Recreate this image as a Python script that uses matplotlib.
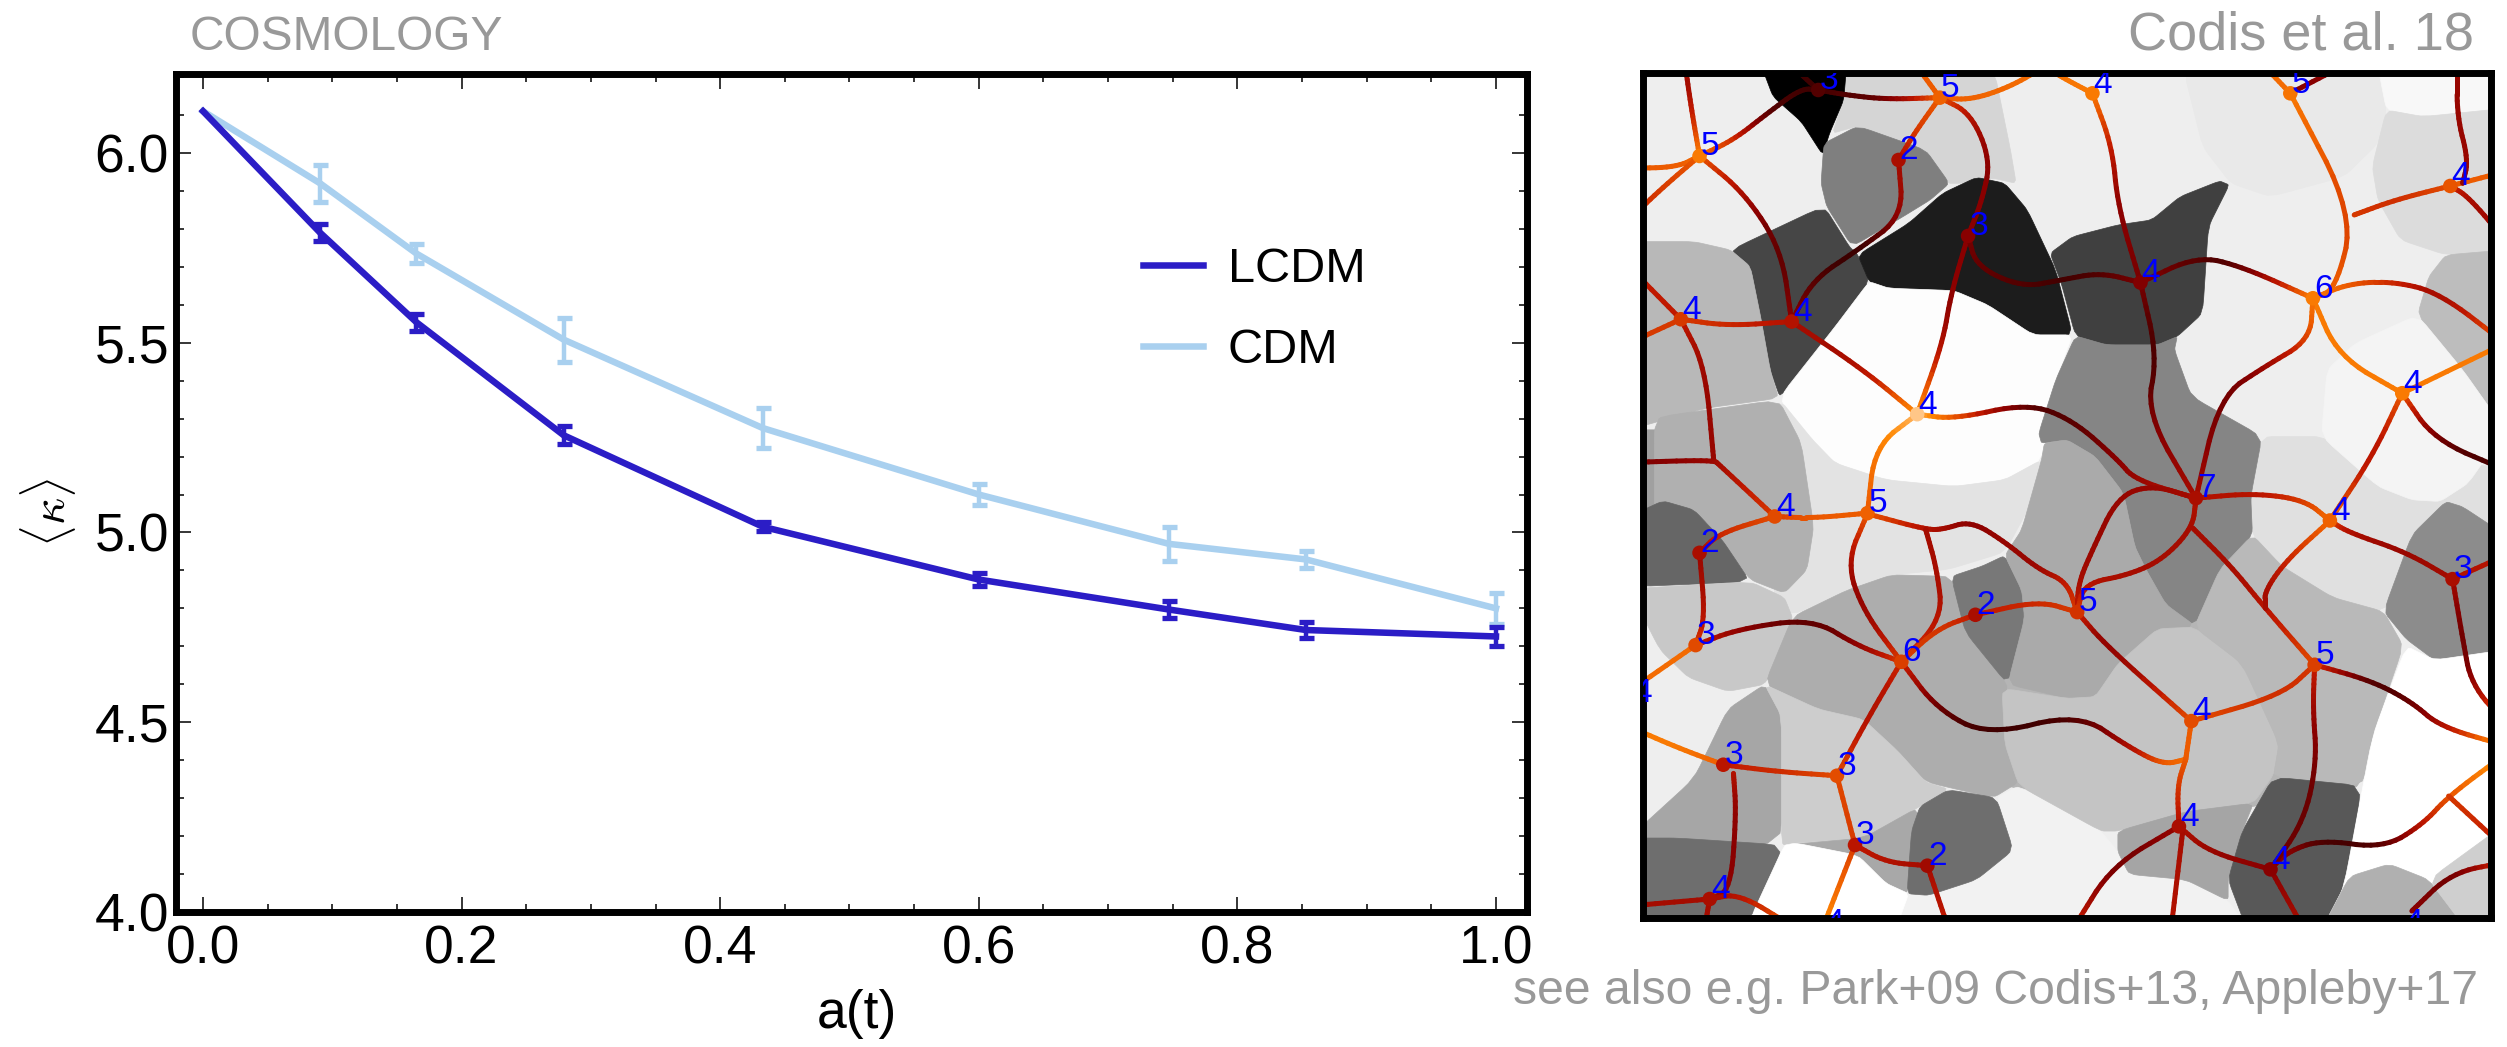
import numpy as np
import matplotlib
matplotlib.use('Agg')
import matplotlib.pyplot as plt
from matplotlib.collections import LineCollection
from matplotlib.colors import LinearSegmentedColormap
from matplotlib.ticker import MultipleLocator

plt.rcParams['font.family'] = ['Liberation Sans', 'DejaVu Sans']
plt.rcParams['mathtext.fontset'] = 'cm'

W, H = 2507, 1047

#----------left panel data-----------
a_t = [0.0, 0.0905, 0.165, 0.279, 0.433, 0.600, 0.747, 0.853, 1.0]
kappa_lcdm = [6.11, 5.79, 5.554, 5.256, 5.015, 4.876, 4.797, 4.743, 4.726]
err_lcdm = [0.0, 0.022, 0.022, 0.024, 0.012, 0.017, 0.022, 0.022, 0.024]
kappa_cdm = [6.11, 5.92, 5.735, 5.508, 5.275, 5.10, 4.97, 4.929, 4.80]
err_cdm = [0.0, 0.048, 0.024, 0.058, 0.052, 0.028, 0.044, 0.022, 0.04]

#----------right panel data: cells, skeleton and nodes of the map-----------
cell_gray = ['#e9e9e9', '#f8f8f8', '#dcdcdc', '#bdbdbd', '#e0e0e0', '#f4f4f4',
             '#b5b5b5',
             '#d5d5d5', '#000000', '#7f7f7f', '#464646', '#1c1c1c', '#404040',
             '#b8b8b8', '#a0a0a0', '#fdfdfd', '#e3e3e3', '#b0b0b0', '#666666',
             '#c8c8c8', '#adadad', '#787878', '#858585', '#aaaaaa', '#a6a6a6',
             '#6e6e6e', '#cdcdcd', '#a8a8a8', '#f2f2f2', '#ffffff', '#6e6e6e',
             '#c4c4c4', '#b9b9b9', '#8c8c8c', '#a5a5a5', '#585858', '#ffffff',
             '#b0b0b0', '#cfcfcf']
cell_outline = [
    [(995,78),(1340,78),(1355,180),(1340,280),(1280,380),(1150,440),(1080,400),(1030,290)],
    [(1340,78),(1533,78),(1533,175),(1420,200),(1355,180)],
    [(1355,180),(1420,200),(1533,175),(1533,600),(1460,615),(1380,570),(1340,450),(1330,350)],
    [(1460,615),(1533,600),(1533,1140),(1490,960),(1410,795),(1430,680)],
    [(1135,1160),(1115,1340),(1118,1455),(1170,1549),(1260,1643),(1350,1685),(1400,1540),(1533,1400),(1533,1250),(1300,1230),(1240,1160)],
    [(1410,795),(1490,960),(1533,1140),(1500,1300),(1450,1355),(1400,1350),(1340,1310),(1240,1160),(1250,960),(1300,880)],
    [(300,1720),(590,1600),(1060,1600),(1350,1700),(1320,2210),(1120,2270),(880,2340),(700,2210),(560,2200),(430,2020),(290,1950)],
    [(400,78),(660,78),(690,300),(700,400),(660,385),(600,400),(580,400),(540,300),(420,228),(375,250),(395,150)],
    [(250,78),(400,78),(395,150),(370,250),(358,315),(320,215),(270,140)],
    [(420,228),(360,280),(355,400),(365,470),(410,590),(500,500),(548,450),(582,400),(540,300)],
    [(195,600),(360,468),(405,590),(420,615),(440,695),(380,830),(283,1045),(265,960),(248,800),(230,650)],
    [(630,382),(570,430),(510,520),(420,615),(440,695),(475,715),(590,722),(650,765),(730,855),(800,855),(770,660),(720,480),(680,400)],
    [(1060,393),(1077,405),(1040,530),(1030,790),(985,860),(950,885),(860,885),(805,858),(780,700),(760,610),(800,560),(880,525),(940,510),(990,440)],
    [(45,575),(130,575),(195,600),(230,650),(248,800),(265,960),(280,1045),(150,1075),(45,1140)],
    [(45,1140),(70,1140),(70,1360),(45,1400)],
    [(440,695),(475,715),(590,722),(650,765),(730,855),(800,855),(770,990),(745,1230),(680,1290),(590,1310),(470,1290),(380,1240),(340,1170),(280,1045),(380,830)],
    [(280,1045),(340,1170),(380,1240),(470,1290),(590,1310),(680,1290),(745,1230),(730,1350),(680,1507),(580,1559),(480,1575),(400,1622),(305,1695),(270,1640)],
    [(60,1140),(70,1100),(280,1050),(320,1180),(342,1430),(330,1560),(290,1630),(230,1590),(190,1500),(150,1410),(60,1400)],
    [(45,1400),(75,1353),(130,1380),(180,1470),(230,1596),(45,1611)],
    [(45,1617),(230,1596),(290,1643),(305,1706),(280,1821),(255,1904),(190,1925),(120,1883),(70,1800)],
    [(305,1700),(400,1622),(480,1575),(585,1580),(610,1747),(685,1904),(675,1978),(705,2197),(660,2244),(540,2197),(490,2103),(430,2009),(350,1978),(255,1904)],
    [(585,1580),(640,1549),(680,1517),(710,1622),(715,1706),(685,1904),(610,1747)],
    [(805,858),(860,885),(950,885),(985,860),(980,900),(1010,1040),(1135,1160),(1115,1340),(1118,1455),(1060,1580),(1015,1726),(965,1664),(930,1560),(910,1490),(890,1330),(840,1220),(790,1170),(745,1180),(740,1150),(770,990)],
    [(745,1230),(750,1180),(790,1170),(840,1220),(890,1330),(910,1490),(930,1560),(965,1664),(1015,1726),(930,1780),(880,1840),(840,1940),(790,1945),(685,1904),(715,1706),(710,1622),(680,1517),(710,1440)],
    [(255,1904),(285,1999),(285,2386),(45,2365),(130,2187),(190,1978)],
    [(45,2365),(100,2365),(290,2386),(225,2595),(45,2595)],
    [(285,1999),(255,1904),(350,1978),(430,2009),(490,2103),(540,2197),(580,2218),(530,2270),(430,2365),(310,2380),(285,2386)],
    [(290,2386),(430,2365),(530,2270),(510,2532),(470,2501),(420,2417),(310,2380)],
    [(665,2244),(705,2208),(850,2344),(880,2406),(900,2474),(1000,2490),(1075,2553),(1105,2595),(490,2595),(507,2532),(545,2537),(630,2490),(695,2401)],
    [(290,2386),(310,2380),(420,2417),(470,2501),(510,2532),(490,2595),(225,2595)],
    [(580,2220),(665,2244),(695,2401),(630,2490),(545,2537),(507,2532),(515,2344),(530,2270)],
    [(675,1915),(790,1946),(840,1941),(880,1842),(950,1737),(1015,1732),(1100,1842),(1165,2082),(1155,2176),(1120,2260),(1000,2286),(880,2344),(850,2344),(705,2208),(680,2082)],
    [(1015,1732),(1060,1559),(1118,1455),(1170,1549),(1260,1643),(1350,1685),(1385,1789),(1330,2061),(1312,2208),(1155,2182),(1165,2082),(1100,1842)],
    [(1460,1355),(1400,1455),(1350,1685),(1390,1768),(1440,1831),(1533,1800),(1533,1455),(1490,1371)],
    [(880,2344),(1000,2286),(1120,2260),(1100,2344),(1075,2490),(1075,2553),(1000,2490),(900,2474),(880,2406)],
    [(1155,2182),(1312,2208),(1280,2511),(1245,2595),(1105,2595),(1075,2490),(1100,2344)],
    [(1390,1789),(1440,1831),(1533,1800),(1533,2595),(1245,2595),(1280,2511),(1330,2061)],
    [(1245,2595),(1290,2480),(1360,2443),(1430,2490),(1490,2595)],
    [(1430,2490),(1533,2323),(1533,2595),(1490,2595)],
]

edge_xy = [
    [(115,78),(125,170),(140,318)],
    [(140,318),(100,352),(45,355)],
    [(140,318),(200,270),(260,190),(320,115),(350,120)],
    [(350,120),(305,78)],
    [(350,120),(400,135),(470,148),(565,143)],
    [(565,143),(620,150),(690,110),(750,78),(790,90),(835,130)],
    [(565,143),(525,78)],
    [(565,143),(520,250),(492,330)],
    [(565,143),(620,190),(655,330),(640,450),(615,558)],
    [(835,130),(870,290),(880,470),(920,698)],
    [(492,330),(500,500),(420,600),(340,690),(303,815)],
    [(140,318),(220,430),(285,600),(303,815)],
    [(140,318),(70,420),(45,510)],
    [(615,558),(585,730),(570,880),(525,1093)],
    [(615,558),(630,650),(710,712),(780,690),(850,668),(920,698)],
    [(920,698),(1020,618),(1100,650),(1225,745)],
    [(920,698),(950,920),(930,1090),(1018,1345)],
    [(107,808),(190,828),(303,815)],
    [(107,808),(45,880)],
    [(107,808),(45,650)],
    [(107,808),(150,950),(165,1230)],
    [(45,1238),(165,1230),(175,1245),(273,1400)],
    [(303,815),(430,960),(525,1093)],
    [(525,1093),(450,1190),(437,1390)],
    [(525,1093),(590,1108),(720,1060),(800,1110),(880,1230),(910,1290),(1018,1345)],
    [(1185,130),(1298,495),(1265,720),(1225,745)],
    [(1185,130),(1140,78)],
    [(1185,130),(1275,78)],
    [(1298,495),(1370,450),(1468,408)],
    [(1468,408),(1533,365)],
    [(1480,78),(1480,200),(1500,330),(1490,400)],
    [(1468,408),(1500,440),(1533,570)],
    [(1225,745),(1290,700),(1370,695),(1450,730),(1533,880)],
    [(1225,745),(1270,920),(1383,1030)],
    [(1225,745),(1220,870),(1140,950),(1060,1040),(1018,1345)],
    [(1383,1030),(1533,880)],
    [(1383,1030),(1330,1220),(1255,1412)],
    [(1383,1030),(1440,1170),(1533,1260)],
    [(1018,1345),(1120,1330),(1210,1350),(1255,1412)],
    [(273,1400),(340,1405),(437,1390)],
    [(140,1509),(175,1450),(273,1400)],
    [(437,1392),(540,1439),(570,1439),(620,1413),(680,1476),(740,1559),(790,1596),(808,1687)],
    [(437,1392),(400,1538),(430,1685),(497,1836)],
    [(540,1439),(560,1559),(570,1706),(497,1836)],
    [(497,1836),(560,1737),(628,1695)],
    [(628,1695),(740,1653),(808,1687)],
    [(140,1509),(150,1706),(133,1786)],
    [(133,1786),(210,1737),(340,1706),(420,1789),(497,1836)],
    [(133,1786),(45,1925)],
    [(497,1836),(440,1999),(383,2178)],
    [(497,1836),(560,1978),(650,2058),(810,1990),(900,2093),(960,2145),(1000,2129)],
    [(1000,2129),(1010,2014)],
    [(1000,2129),(985,2208),(988,2330)],
    [(1018,1345),(940,1305),(880,1340),(835,1500),(810,1600),(808,1687)],
    [(1018,1350),(1012,1434),(960,1528),(900,1575),(820,1601),(808,1687)],
    [(1012,1434),(1080,1549),(1140,1674),(1228,1845)],
    [(1255,1413),(1180,1528),(1140,1622),(1140,1674)],
    [(1255,1413),(1290,1449),(1390,1507),(1472,1588)],
    [(1472,1588),(1533,1517)],
    [(1472,1588),(1490,1768),(1505,1904),(1533,2019)],
    [(1533,2114),(1465,2239),(1420,2323),(1350,2396),(1240,2370),(1180,2406),(1150,2459)],
    [(1465,2239),(1533,2396)],
    [(1228,1845),(1330,1894),(1400,1957),(1450,2031),(1533,2087)],
    [(1228,1845),(1170,1936),(1010,2014)],
    [(1228,1845),(1225,1978),(1232,2134),(1210,2312),(1150,2459)],
    [(808,1687),(860,1789),(1010,2014)],
    [(182,2145),(280,2166),(383,2178)],
    [(182,2145),(100,2093),(45,2030)],
    [(200,2171),(205,2291),(195,2522),(158,2548)],
    [(383,2178),(415,2386)],
    [(415,2386),(470,2438),(543,2448)],
    [(543,2448),(578,2595)],
    [(415,2386),(360,2595)],
    [(988,2330),(1040,2406),(1150,2459)],
    [(988,2330),(870,2448),(805,2595)],
    [(995,2340),(975,2595)],
    [(1150,2459),(1205,2595)],
    [(158,2548),(45,2569)],
    [(158,2548),(210,2532),(300,2595)],
    [(158,2548),(150,2595)],
    [(1533,2438),(1470,2469),(1400,2584)],
]
edge_heat = [
    [.35,.45,.8],[.75,.7,.7],[.75,.6,.15,.1,.1],[.1,.1],[.1,.15,.2,.72],
    [.72,.72,.75,.75,.78,.8],[.7,.7],[.7,.6,.45],[.7,.45,.3,.3,.3],[.8,.5,.3,.25],
    [.4,.35,.05,.15,.3],[.7,.4,.15,.3],[.7,.6,.55],[.3,.3,.4,.85],
    [.25,.2,.15,.1,.15,.25],[.3,.15,.15,.8],[.25,.1,.25,.4],[.6,.55,.45],
    [.6,.6],[.5,.5],[.5,.35,.35],[.25,.35,.4,.6],[.4,.4,.85],[.95,.8,.7],
    [.95,.7,.15,.15,.3,.35,.45],[.8,.6,.7,.8],[.75,.75],[.3,.3],[.6,.55,.65],
    [.7,.7],[.35,.35,.35,.35],[.6,.4,.35],[.8,.7,.55,.35,.7],[.8,.8,.8],
    [.8,.65,.35,.2,.4],[.8,.8],[.7,.4,.75],[.7,.2,.1],[.45,.45,.6,.75],
    [.6,.7,.7],[.4,.55,.65],[.7,.45,.4,.3,.35,.35,.5,.6],[.7,.4,.3,.6],
    [.4,.4,.45,.6],[.6,.6,.5],[.5,.55,.6],[.35,.45,.6],[.55,.3,.15,.3,.6],
    [.75,.75],[.55,.4,.65],[.55,.2,.08,.12,.4,.7,.75],[.7,.7],[.7,.6,.45],
    [.4,.35,.35,.35,.4,.5],[.45,.4,.4,.4,.45,.6],[.4,.4,.45,.65],[.75,.55,.4,.4],
    [.7,.4,.35,.4],[.45,.45],[.4,.2,.3,.75],[.9,.7,.5,.15,.1,.3,.3],[.6,.5],
    [.6,.1,.2,.4,.9],[.6,.55,.65],[.55,.35,.25,.2,.25],[.55,.25,.65],[.5,.55,.65],
    [.7,.8,.8],[.45,.3,.3,.4],[.65,.6],[.5,.45,.4],[.4,.5],[.6,.85],[.45,.35,.3],
    [.35,.2,.5],[.4,.45],[.3,.4],[.4,.4],[.4,.45,.7],[.4,.4],[.6,.2,.3],
]

node_x = [350, 565, 835, 1185, 140, 492, 1468, 615, 920, 1225, 107, 303, 1383, 525,
          1018, 1255, 273, 437, 140, 1472, 628, 808, 133, 497, 1228, 1010, 182, 383,
          988, 415, 543, 1150, 158, 360, 1385, 20]
node_y = [120, 143, 130, 130, 318, 330, 408, 558, 698, 745, 808, 815, 1030, 1093,
          1345, 1412, 1400, 1390, 1509, 1588, 1695, 1687, 1786, 1836, 1845, 2014, 2145,
          2178, 2330, 2386, 2448, 2459, 2548, 2650, 2650, 1960]
node_count = ['3', '5', '4', '5', '5', '2', '4', '3', '4', '6', '4', '4', '4', '4',
              '7', '4', '4', '5', '2', '3', '2', '5', '3', '6', '5', '4', '3', '3',
              '4', '3', '2', '4', '4', '4', '4', '4']
node_heat = [.15, .72, .8, .78, .8, .42, .68, .3, .28, .8, .6, .45, .8, .98,
             .42, .72, .65, .72, .42, .42, .42, .58, .65, .62, .62, .66, .48, .66,
             .42, .48, .38, .3, .42, .8, .5, .8]

#----------helpers-----------
def chaikin(pts, closed=False, rounds=3, cut=0.25):
    # corner cutting so the hand read outlines come out round
    pts = np.asarray(pts, dtype=float)
    for _ in range(rounds):
        nxt = np.roll(pts, -1, axis=0) if closed else pts[1:]
        cur = pts if closed else pts[:-1]
        q = (1-cut)*cur + cut*nxt
        r = cut*cur + (1-cut)*nxt
        out = np.empty((2*len(cur), pts.shape[1]))
        out[0::2] = q
        out[1::2] = r
        pts = out if closed else np.vstack([pts[:1], out, pts[-1:]])
    return pts

def push_out(xy):
    # anything read on the frame gets pushed behind it
    xy = np.array(xy, dtype=float)
    xy[:, 0] = np.where(xy[:, 0] <= 45, 15, xy[:, 0])
    xy[:, 0] = np.where(xy[:, 0] >= 1533, 1565, xy[:, 0])
    xy[:, 1] = np.where(xy[:, 1] <= 78, 50, xy[:, 1])
    xy[:, 1] = np.where(xy[:, 1] >= 2595, 2625, xy[:, 1])
    return xy

heat_map = LinearSegmentedColormap.from_list('skeleton', [
    (0.0, '#1c0000'), (0.3, '#8a0000'), (0.5, '#c01800'),
    (0.7, '#ec5a00'), (0.85, '#ff8a05'), (1.0, '#ffcf9a')])

#----------figure-----------
fig = plt.figure(figsize=(W/100, H/100), dpi=100, facecolor='white')

def axes_px(left, top, right, bottom):
    return fig.add_axes([left/W, 1-bottom/H, (right-left)/W, (bottom-top)/H])

ax1 = axes_px(176, 74, 1527, 912)
ax2 = axes_px(1643, 73, 2491, 918)

#----------left panel-----------
lcdm_col = '#2b1dc6'
cdm_col = '#a9d0ef'

ax1.plot(a_t, kappa_cdm, color=cdm_col, lw=4.7, label='CDM', zorder=2)
ax1.errorbar(a_t[1:], kappa_cdm[1:], yerr=err_cdm[1:], fmt='none', ecolor=cdm_col,
             elinewidth=3.2, capsize=5.4, capthick=3.8, zorder=2)
ax1.plot(a_t, kappa_lcdm, color=lcdm_col, lw=4.7, label='LCDM', zorder=3)
ax1.errorbar(a_t[1:], kappa_lcdm[1:], yerr=err_lcdm[1:], fmt='none', ecolor=lcdm_col,
             elinewidth=3.2, capsize=5.4, capthick=3.8, zorder=3)

ax1.set_xlim(-0.0209, 1.024)
ax1.set_ylim(4.0, 6.208)
ax1.xaxis.set_major_locator(MultipleLocator(0.2))
ax1.xaxis.set_minor_locator(MultipleLocator(0.05))
ax1.yaxis.set_major_locator(MultipleLocator(0.5))
ax1.yaxis.set_minor_locator(MultipleLocator(0.1))
ax1.tick_params(which='both', direction='in', top=True, right=True, width=1.1)
ax1.tick_params(which='major', length=10.5, labelsize=38.5)
ax1.tick_params(which='minor', length=6)
ax1.tick_params(axis='x', which='major', pad=9)
ax1.tick_params(axis='y', which='major', pad=5)
for s in ax1.spines.values():
    s.set_linewidth(5)

ax1.text((857-176)/1351, -(1014-912)/838, 'a(t)', transform=ax1.transAxes, fontsize=38.5,
         ha='center', va='center')
ax1.text(-(176-48)/1351, (912-512)/838, r'$\langle\kappa\rangle$', transform=ax1.transAxes,
         fontsize=34, rotation=90, ha='center', va='center')

h, l = ax1.get_legend_handles_labels()
ax1.legend(h[::-1], l[::-1], loc='center left', bbox_to_anchor=(1143/W, 1-310/H),
           bbox_transform=fig.transFigure, frameon=False, fontsize=35, handlelength=1.23,
           handletextpad=0.51, labelspacing=0.76, borderpad=0, borderaxespad=0)

#----------right panel-----------
ax2.set_facecolor('#eeeeee')
for gray, outline in zip(cell_gray, cell_outline):
    xy = chaikin(push_out(outline), closed=True, rounds=2, cut=0.1)
    ax2.fill(xy[:, 0], xy[:, 1], color=gray, lw=0.5, zorder=1)

segs = []
seg_heat = []
for xy, heat in zip(edge_xy, edge_heat):
    pts = chaikin(np.column_stack([push_out(xy), heat]))
    for p, q in zip(pts[:-1], pts[1:]):
        segs.append([p[:2], q[:2]])
        seg_heat.append(0.5*(p[2] + q[2]))
ax2.add_collection(LineCollection(segs, colors=heat_map(np.array(seg_heat)), linewidths=3.6,
                                  capstyle='round', zorder=2))

ax2.scatter(node_x, node_y, s=110, c=heat_map(np.array(node_heat)), lw=0, zorder=3)
for x, y, c in zip(node_x, node_y, node_count):
    ax2.text(x + 2, y - 2, c, color='#0000ff', fontsize=24, ha='left', va='baseline',
             clip_on=True, zorder=4)

ax2.set_xlim(40, 1540)
ax2.set_ylim(2605, 69)
ax2.set_xticks([])
ax2.set_yticks([])
for s in ax2.spines.values():
    s.set_linewidth(5)

#----------grey notes around the panels-----------
note_col = '#999999'
fig.text(190/W, 1-38/H, 'COSMOLOGY', color=note_col, fontsize=34.5, ha='left', va='center')
fig.text(2474/W, 1-36/H, 'Codis et al. 18', color=note_col, fontsize=39, ha='right', va='center')
fig.text(2478/W, 1-991/H, 'see also e.g. Park+09 Codis+13, Appleby+17', color=note_col,
         fontsize=34.7, ha='right', va='center')

fig.savefig('out.png', dpi=100)
